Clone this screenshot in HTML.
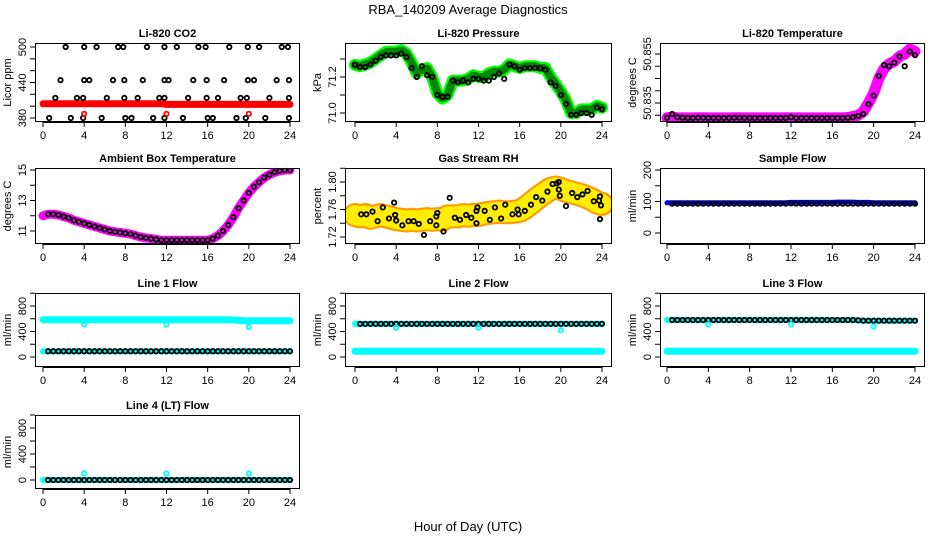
<!DOCTYPE html>
<html><head><meta charset="utf-8">
<style>
html,body{margin:0;padding:0;background:#fff;}
svg{display:block;font-family:"Liberation Sans",sans-serif;}
</style></head>
<body>
<svg id="chart" width="936" height="540" viewBox="0 0 936 540">
<text x="468" y="14" text-anchor="middle" font-size="13">RBA_140209  Average Diagnostics</text>
<text x="468" y="531" text-anchor="middle" font-size="13">Hour of Day (UTC)</text>
</svg>
<script>
// ---- data ----
const hours = [0,0.5,1,1.5,2,2.5,3,3.5,4,4.5,5,5.5,6,6.5,7,7.5,8,8.5,9,9.5,10,10.5,11,11.5,12,12.5,13,13.5,14,14.5,15,15.5,16,16.5,17,17.5,18,18.5,19,19.5,20,20.5,21,21.5,22,22.5,23,23.5,24];
const xTicks = [0,4,8,12,16,20,24];

const co2Band = [404,404,404,404,404,404,404,404,404,404,404,404,404,404,404,404,404,404,404,404,404,404,404,404,403,403,403,403,403,403,403,403,403,403,403,403,403,403,403,403,403,403,403,403,403,403,403,403,403];
const co2BlackHours = [2.2,4,5.2,7.3,7.8,10.1,11.8,13,15.1,15.8,18.1,19.9,21,23.2,23.8, 1.7,4,4.5,6.8,7.9,9.7,11.8,12.2,14.6,15.9,17.6,19.9,20.5,22.7,23.9, 1.2,3.3,3.9,6.2,7.9,9.2,11.3,11.8,14.1,15.9,17,19.2,19.8,22,23.9, 0.6,2.7,3.9,5.7,8,8.6,10.7,11.8,13.6,16,16.5,18.8,19.7,21.6,23.9];
const co2BlackValues = [500,500,500,500,500,500,500,500,500,500,500,500,500,500,500, 444,444,444,444,444,444,444,444,444,444,444,444,444,444,444, 414,414,414,414,414,414,414,414,414,414,414,414,414,414,414, 380,380,380,380,380,380,380,380,380,380,380,380,380,380,380];
const co2RedHours = [4,12,20];
const co2RedValues = [387,387,387];

const presBand = [71.268,71.26,71.27,71.28,71.30,71.32,71.34,71.34,71.34,71.35,71.33,71.28,71.22,71.24,71.25,71.20,71.11,71.08,71.10,71.18,71.18,71.18,71.19,71.21,71.20,71.20,71.22,71.23,71.23,71.24,71.27,71.26,71.25,71.26,71.26,71.26,71.25,71.25,71.20,71.16,71.12,71.07,71.00,71.00,71.02,71.02,71.02,71.04,71.03];
const presBlack = [71.268,71.255,71.255,71.27,71.29,71.31,71.32,71.32,71.32,71.33,71.31,71.25,71.20,71.26,71.21,71.20,71.10,71.09,71.09,71.18,71.17,71.18,71.17,71.19,71.19,71.18,71.18,71.20,71.22,71.19,71.27,71.26,71.24,71.25,71.25,71.25,71.25,71.24,71.17,71.15,71.10,71.05,70.99,70.99,71.00,71.00,70.99,71.03,71.02];

const tempBand = [50.8290,50.8292,50.8290,50.8289,50.8289,50.8289,50.8290,50.8290,50.8289,50.8289,50.8289,50.8289,50.8289,50.8290,50.8290,50.8289,50.8289,50.8289,50.8289,50.8289,50.8289,50.8289,50.8289,50.8289,50.8290,50.8289,50.8289,50.8289,50.8289,50.8289,50.8289,50.8289,50.8289,50.8289,50.8289,50.8291,50.8295,50.8300,50.8315,50.8350,50.8390,50.8450,50.8490,50.8510,50.8520,50.8540,50.8550,50.8570,50.8560];
const tempBlack = [50.8290,50.8305,50.8292,50.8290,50.8289,50.8289,50.8290,50.8290,50.8289,50.8289,50.8289,50.8289,50.8289,50.8290,50.8290,50.8289,50.8289,50.8289,50.8289,50.8289,50.8289,50.8289,50.8289,50.8289,50.8292,50.8289,50.8289,50.8289,50.8289,50.8289,50.8289,50.8289,50.8289,50.8289,50.8289,50.8290,50.8292,50.8297,50.8305,50.8345,50.8380,50.8460,50.8505,50.8500,50.8515,50.8540,50.8500,50.8560,50.8545];

const ambBand = [12.0,12.1,12.1,12.05,11.95,11.85,11.7,11.6,11.5,11.4,11.3,11.2,11.1,11.0,10.95,10.9,10.85,10.8,10.7,10.6,10.55,10.5,10.45,10.4,10.4,10.4,10.4,10.4,10.4,10.4,10.4,10.4,10.4,10.5,10.7,11.0,11.4,11.9,12.5,13.0,13.5,13.9,14.2,14.5,14.7,14.85,14.95,15.0,15.0];

const rhBand = [1.752,1.750,1.752,1.748,1.750,1.752,1.750,1.748,1.746,1.745,1.744,1.745,1.744,1.745,1.746,1.745,1.746,1.745,1.750,1.750,1.750,1.752,1.751,1.752,1.752,1.754,1.755,1.756,1.757,1.756,1.756,1.757,1.758,1.762,1.768,1.774,1.780,1.785,1.790,1.792,1.790,1.787,1.785,1.783,1.781,1.778,1.775,1.770,1.768];
const rhBlackHours = [0.6,1.1,1.7,2.2,2.7,3.3,3.8,3.9,4.0,4.6,5.2,5.7,6.2,6.7,7.3,7.9,7.9,8.0,8.6,9.2,9.7,10.2,10.8,11.3,11.8,11.8,11.9,12.6,13.1,13.6,14.2,14.6,15.3,15.8,15.9,16.5,17.1,17.6,18.2,18.7,19.2,19.6,19.8,19.9,19.8,20.5,21.1,21.6,22.1,22.6,23.2,23.7,23.8,23.8,23.9];
const rhBlackValues = [1.753,1.753,1.757,1.743,1.763,1.747,1.770,1.752,1.744,1.737,1.743,1.743,1.739,1.723,1.743,1.737,1.750,1.755,1.728,1.777,1.748,1.745,1.752,1.748,1.740,1.758,1.763,1.758,1.745,1.763,1.747,1.767,1.753,1.760,1.753,1.758,1.767,1.778,1.773,1.786,1.797,1.798,1.800,1.780,1.789,1.765,1.784,1.778,1.782,1.787,1.772,1.773,1.779,1.746,1.766];

const sampleBand = [96,96,96,96,96,96,96,96,96,96,96,96,96,96,96,96,96,96,96,96,96,96,96,96,97,97,97,97,97,97,97,97,97,98,98,98,98,97,97,97,96,96,96,96,96,96,96,96,96];
const sampleBlack = [96,93,93,93,93,93,93,93,93,93,93,93,93,93,93,93,93,93,93,93,93,93,93,93,94,93,93,93,93,93,93,93,93,93,93,93,93,93,93,93,93,93,93,93,93,93,93,93,93];

const line1Cyan = [585,585,585,585,585,585,585,585,585,585,585,585,585,585,585,585,585,585,585,585,585,585,585,585,585,585,585,585,585,585,585,585,585,585,585,585,585,580,575,570,570,570,570,570,570,570,570,570,570];
const line1Black = [90,90,90,90,90,90,90,90,90,90,90,90,90,90,90,90,90,90,90,90,90,90,90,90,90,90,90,90,90,90,90,90,90,90,90,90,90,90,90,90,90,90,90,90,90,90,90,90,90];
const line2Black = [520,520,520,520,520,520,520,520,520,520,520,520,520,520,520,520,520,520,520,520,520,520,520,520,520,520,520,520,520,520,520,520,520,520,520,520,520,520,520,520,520,520,520,520,520,520,520,520,520];
const line2Cyan = [90,90,90,90,90,90,90,90,90,90,90,90,90,90,90,90,90,90,90,90,90,90,90,90,90,90,90,90,90,90,90,90,90,90,90,90,90,90,90,90,90,90,90,90,90,90,90,90,90];
const line3Black = [580,580,580,580,580,580,580,580,580,580,580,580,580,580,580,580,580,580,580,580,580,580,580,580,580,580,580,580,580,580,580,580,580,580,580,580,580,575,570,570,570,570,570,570,570,570,570,570,570];
const line3Cyan = [90,90,90,90,90,90,90,90,90,90,90,90,90,90,90,90,90,90,90,90,90,90,90,90,90,90,90,90,90,90,90,90,90,90,90,90,90,90,90,90,90,90,90,90,90,90,90,90,90];
const line4Black = [0,0,0,0,0,0,0,0,0,0,0,0,0,0,0,0,0,0,0,0,0,0,0,0,0,0,0,0,0,0,0,0,0,0,0,0,0,0,0,0,0,0,0,0,0,0,0,0,0];
const outlierHours = [4,12,20];
const line1Outliers = [510,510,470];
const line2Outliers = [460,460,420];
const line3Outliers = [510,510,480];
const line4Outliers = [100,100,100];

// ---- drawing ----
const NS = 'http://www.w3.org/2000/svg';
const svg = document.getElementById('chart');
function mk(tag, attrs, parent){
  const e = document.createElementNS(NS, tag);
  for (const k in attrs) e.setAttribute(k, attrs[k]);
  parent.appendChild(e);
  return e;
}
const cols = [{l:35,r:300,x0:43,x24:290},{l:345,r:612,x0:355,x24:602},{l:660,r:925,x0:667,x24:915}];
const rows = [{t:43,b:122},{t:168,b:244},{t:293,b:367},{t:415,b:489}];

function makePanel(name, title, col, row, ylab, v1, p1, v2, p2, yTicks, yLabels){
  const c = cols[col], r = rows[row];
  const g = mk('g', {}, svg);
  
  
  const xs = h => c.x0 + (h/24)*(c.x24 - c.x0);
  const ys = v => p1 + (v - v1)*(p2 - p1)/(v2 - v1);
  const clipId = 'clip-' + name;
  const cp = mk('clipPath', {id: clipId}, g);
  mk('rect', {x:c.l, y:r.t, width:c.r-c.l, height:r.b-r.t}, cp);
  const plot = mk('g', {'clip-path': 'url(#' + clipId + ')'}, g);
  
  
  const t = mk('text', {x:(c.l+c.r)/2, y:r.t-6, 'text-anchor':'middle', 'font-size':11, 'font-weight':'bold'}, g);
  t.textContent = title;
  
  
  const box = mk('rect', {x:c.l+0.5, y:r.t+0.5, width:c.r-c.l-1, height:r.b-r.t-1, fill:'none', stroke:'#000', 'stroke-width':1}, g);
  
  
  const xa = mk('g', {}, g);
  
  
  mk('line', {x1:xs(0), x2:xs(24), y1:r.b+0.5, y2:r.b+0.5, stroke:'#000'}, xa);
  xTicks.forEach(h => {
    mk('line', {x1:xs(h), x2:xs(h), y1:r.b, y2:r.b+5, stroke:'#000'}, xa);
    const tl = mk('text', {x:xs(h), y:r.b+17, 'text-anchor':'middle', 'font-size':11}, xa);
    tl.textContent = h;
    
    
  });
  const ya = mk('g', {}, g);
  
  
  mk('line', {x1:c.l+0.5, x2:c.l+0.5, y1:ys(yTicks[0]), y2:ys(yTicks[yTicks.length-1]), stroke:'#000'}, ya);
  yTicks.forEach(v => mk('line', {x1:c.l-5, x2:c.l, y1:ys(v), y2:ys(v), stroke:'#000'}, ya));
  yLabels.forEach(v => {
    const yy = ys(v), xx = c.l - 9;
    const tl = mk('text', {x:xx, y:yy, 'text-anchor':'middle', 'font-size':11, transform:'rotate(-90 '+xx+' '+yy+')'}, ya);
    tl.textContent = String(v);
    
    
  });
  const yx = c.l - 24, yy = (r.t + r.b)/2;
  const yl = mk('text', {x:yx, y:yy, 'text-anchor':'middle', 'font-size':11, transform:'rotate(-90 '+yx+' '+yy+')'}, g);
  yl.textContent = ylab;
  
  
  return {plot, xs, ys};
}
function band(P, hs, vs, color, width, label, dash){
  const pts = hs.map((h,i) => P.xs(h).toFixed(1) + ',' + P.ys(vs[i]).toFixed(1)).join(' ');
  const a = {points:pts, fill:'none', stroke:color, 'stroke-width':width, 'stroke-linejoin':'round', 'stroke-linecap':'round'};
  if (dash) a['stroke-dasharray'] = dash;
  const pl = mk('polyline', a, P.plot);
  
  
}
function circles(P, hs, vs, color, rad, label, sw){
  const g = mk('g', {}, P.plot);
  
  
  hs.forEach((h,i) => {
    const c = mk('circle', {cx:P.xs(h), cy:P.ys(vs[i]), r:rad, fill:'none', stroke:color, 'stroke-width':sw||1.8}, g);
    
    
  });
}
const R = 2.2;

let P = makePanel('co2', 'Li-820 CO2', 0, 0, 'Licor ppm', 380, 118, 500, 47, [380,400,420,440,460,480,500], [380,440,500]);
band(P, hours, co2Band, '#ff0000', 7, 'co2-red-series');
circles(P, co2BlackHours, co2BlackValues, '#000', R, 'co2-black-series');
circles(P, co2RedHours, co2RedValues, '#ff0000', R, 'co2-red-outliers');

P = makePanel('pressure', 'Li-820 Pressure', 1, 0, 'kPa', 71.0, 113, 71.2, 77, [71.0,71.1,71.2,71.3], ['71.0','71.2']);
band(P, hours, presBand, '#00ff00', 12, 'pressure-green-series');
band(P, hours, presBand, '#008800', 8, 'pressure-green-texture', '1 3');
circles(P, hours, presBlack, '#000', R, 'pressure-black-series');

P = makePanel('li820-temp', 'Li-820 Temperature', 2, 0, 'degrees C', 50.835, 103, 50.855, 54, [50.830,50.835,50.840,50.845,50.850,50.855], ['50.835','50.855']);
band(P, hours, tempBand, '#ff00ff', 11, 'li820-temp-magenta-series');
circles(P, hours, tempBlack, '#000', R, 'li820-temp-black-series');

P = makePanel('ambient', 'Ambient Box Temperature', 0, 1, 'degrees C', 11, 231, 15, 170, [11,12,13,14,15], [11,13,15]);
band(P, hours, ambBand, '#ff00ff', 9, 'ambient-magenta-series');
circles(P, hours.slice(1), ambBand.slice(1), '#000', R, 'ambient-black-series');

P = makePanel('gas-rh', 'Gas Stream RH', 1, 1, 'percent', 1.72, 237, 1.80, 182, [1.72,1.74,1.76,1.78,1.80,1.82], ['1.72','1.76','1.80']);
band(P, hours, rhBand, '#ff9900', 24, 'gas-rh-orange-series');
band(P, hours, rhBand, '#ffee00', 20, 'gas-rh-yellow-texture', '1 3');
circles(P, rhBlackHours, rhBlackValues, '#000', R, 'gas-rh-black-series');

P = makePanel('sample-flow', 'Sample Flow', 2, 1, 'ml/min', 0, 233, 200, 170, [0,50,100,150,200], [0,100,200]);
band(P, hours, sampleBand, '#0000ff', 5, 'sample-flow-blue-series');
circles(P, hours.slice(1), sampleBlack.slice(1), '#000', R, 'sample-flow-black-series');

P = makePanel('line1', 'Line 1 Flow', 0, 2, 'ml/min', 0, 357, 800, 306, [0,200,400,600,800,1000], [0,400,800]);
band(P, hours, line1Cyan, '#00ffff', 7, 'line1-cyan-series');
band(P, hours, line1Black, '#00ffff', 6, 'line1-cyan-low-series');
circles(P, hours.slice(1), line1Black.slice(1), '#000', R, 'line1-black-series');
circles(P, outlierHours, line1Outliers, '#00ffff', R, 'line1-cyan-outliers');

P = makePanel('line2', 'Line 2 Flow', 1, 2, 'ml/min', 0, 357, 800, 306, [0,200,400,600,800,1000], [0,400,800]);
band(P, hours, line2Cyan, '#00ffff', 7, 'line2-cyan-series');
band(P, hours, line2Black, '#00ffff', 6, 'line2-cyan-high-series');
circles(P, hours.slice(1), line2Black.slice(1), '#000', R, 'line2-black-series');
circles(P, outlierHours, line2Outliers, '#00ffff', R, 'line2-cyan-outliers');

P = makePanel('line3', 'Line 3 Flow', 2, 2, 'ml/min', 0, 357, 800, 306, [0,200,400,600,800,1000], [0,400,800]);
band(P, hours, line3Cyan, '#00ffff', 7, 'line3-cyan-series');
band(P, hours, line3Black, '#00ffff', 6, 'line3-cyan-high-series');
circles(P, hours.slice(1), line3Black.slice(1), '#000', R, 'line3-black-series');
circles(P, outlierHours, line3Outliers, '#00ffff', R, 'line3-cyan-outliers');

P = makePanel('line4', 'Line 4 (LT) Flow', 0, 3, 'ml/min', 0, 480, 800, 428, [0,200,400,600,800,1000], [0,400,800]);
band(P, hours, line4Black, '#00ffff', 6, 'line4-cyan-series');
circles(P, hours.slice(1), line4Black.slice(1), '#000', R, 'line4-black-series');
circles(P, outlierHours, line4Outliers, '#00ffff', R, 'line4-cyan-outliers');
</script>
</body></html>
